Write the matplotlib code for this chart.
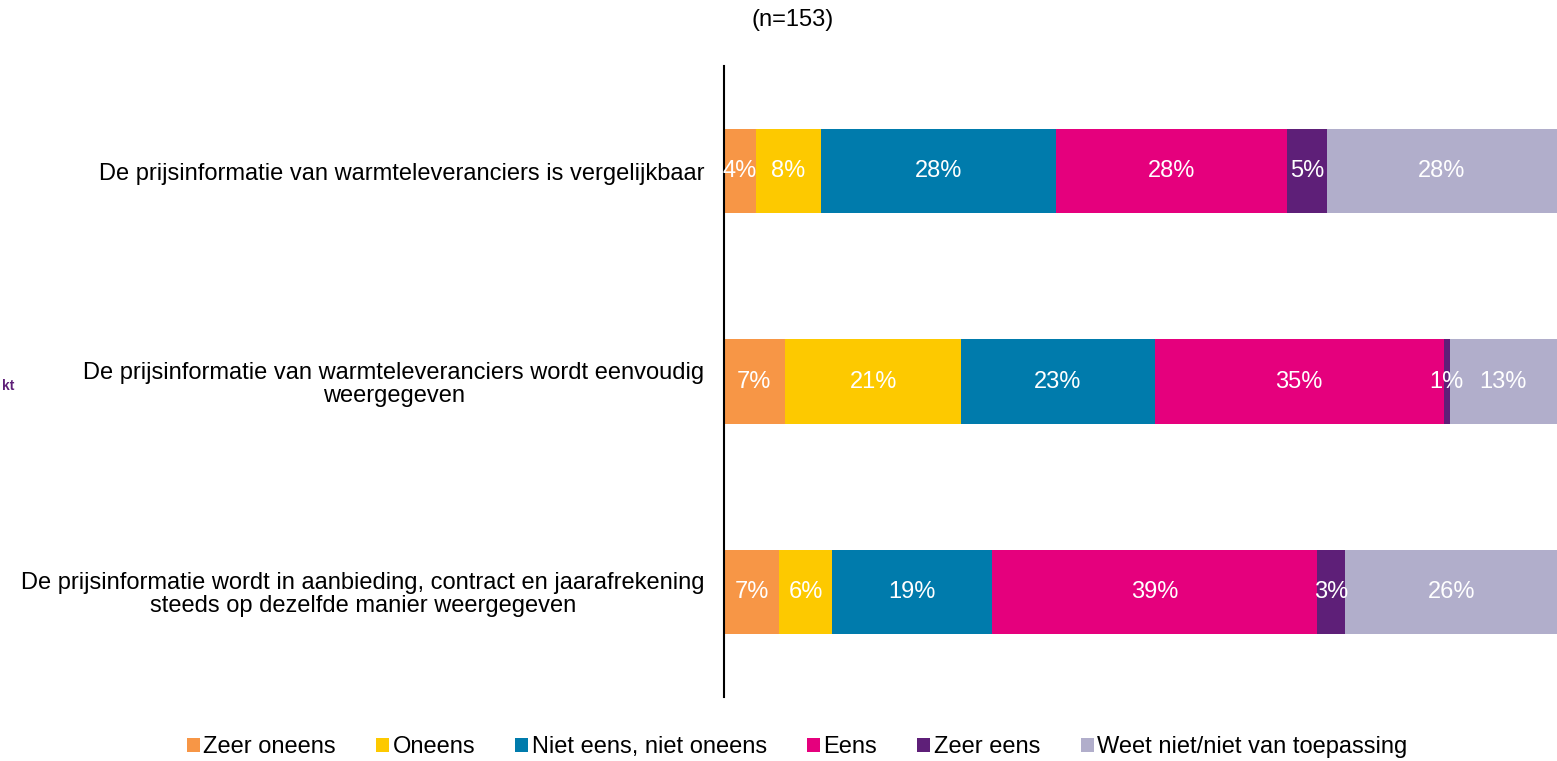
import matplotlib.pyplot as plt
from matplotlib.patches import Patch

plt.rcParams['font.family'] = ['Liberation Sans', 'DejaVu Sans']

# stellingen (van boven naar beneden)
statements = [
    "De prijsinformatie van warmteleveranciers is vergelijkbaar",
    "De prijsinformatie van warmteleveranciers wordt eenvoudig\nweergegeven",
    "De prijsinformatie wordt in aanbieding, contract en jaarafrekening\nsteeds op dezelfde manier weergegeven",
]
answers = ["Zeer oneens", "Oneens", "Niet eens, niet oneens", "Eens",
           "Zeer eens", "Weet niet/niet van toepassing"]
colors = ["#F79646", "#FDC900", "#007BAC", "#E5007D", "#5E1F78", "#B1AECB"]

# percentages per antwoord, per stelling
zeer_oneens = [3.8, 7.3, 6.6]
oneens = [7.9, 21.2, 6.4]
neutraal = [28.2, 23.2, 19.2]
eens = [27.7, 34.7, 39.0]
zeer_eens = [4.8, 0.7, 3.4]
weet_niet = [27.6, 12.9, 25.6]
series = [zeer_oneens, oneens, neutraal, eens, zeer_eens, weet_niet]

fs = 17

fig = plt.figure(figsize=(15.57, 7.61), dpi=100)
ax = fig.add_axes([724 / 1557, 1 - 697 / 761, 1 - 724 / 1557, 631 / 761])

ypos = list(range(len(statements)))
left = [0.0] * len(statements)
for vals, col in zip(series, colors):
    ax.barh(ypos, vals, left=left, height=0.4, color=col)
    for i, v in enumerate(vals):
        ax.text(left[i] + v / 2, ypos[i], f"{round(v)}%", ha='center', va='center',
                color='white', fontsize=fs)
    left = [l + v for l, v in zip(left, vals)]

ax.set_xlim(0, 100)
ax.set_ylim(2.5, -0.5)
ax.set_xticks([])
ax.set_yticks(ypos)
ax.set_yticklabels(statements, fontsize=fs)
ax.tick_params(axis='y', length=0, pad=14)
for lbl in ax.get_yticklabels():
    lbl.set_multialignment('center')
    lbl.set_linespacing(1.05)
for s in ['top', 'right', 'bottom']:
    ax.spines[s].set_visible(False)
ax.spines['left'].set_linewidth(1.5)

fig.text(793 / 1557, 1 - 20 / 761, "(n=153)", ha='center', va='center', fontsize=fs)
fig.text(0.001, 1 - 386 / 761, "kt", ha='left', va='center', fontsize=10,
         color='#5E1F78', fontweight='bold')

handles = [Patch(facecolor=c, label=a) for a, c in zip(answers, colors)]
fig.legend(handles=handles, loc='center', bbox_to_anchor=(797 / 1557, 1 - 747 / 761),
           ncol=6, frameon=False, fontsize=fs, handlelength=0.55, handleheight=0.55,
           handletextpad=0.15, columnspacing=1.7)

plt.savefig("out.png", dpi=100)
